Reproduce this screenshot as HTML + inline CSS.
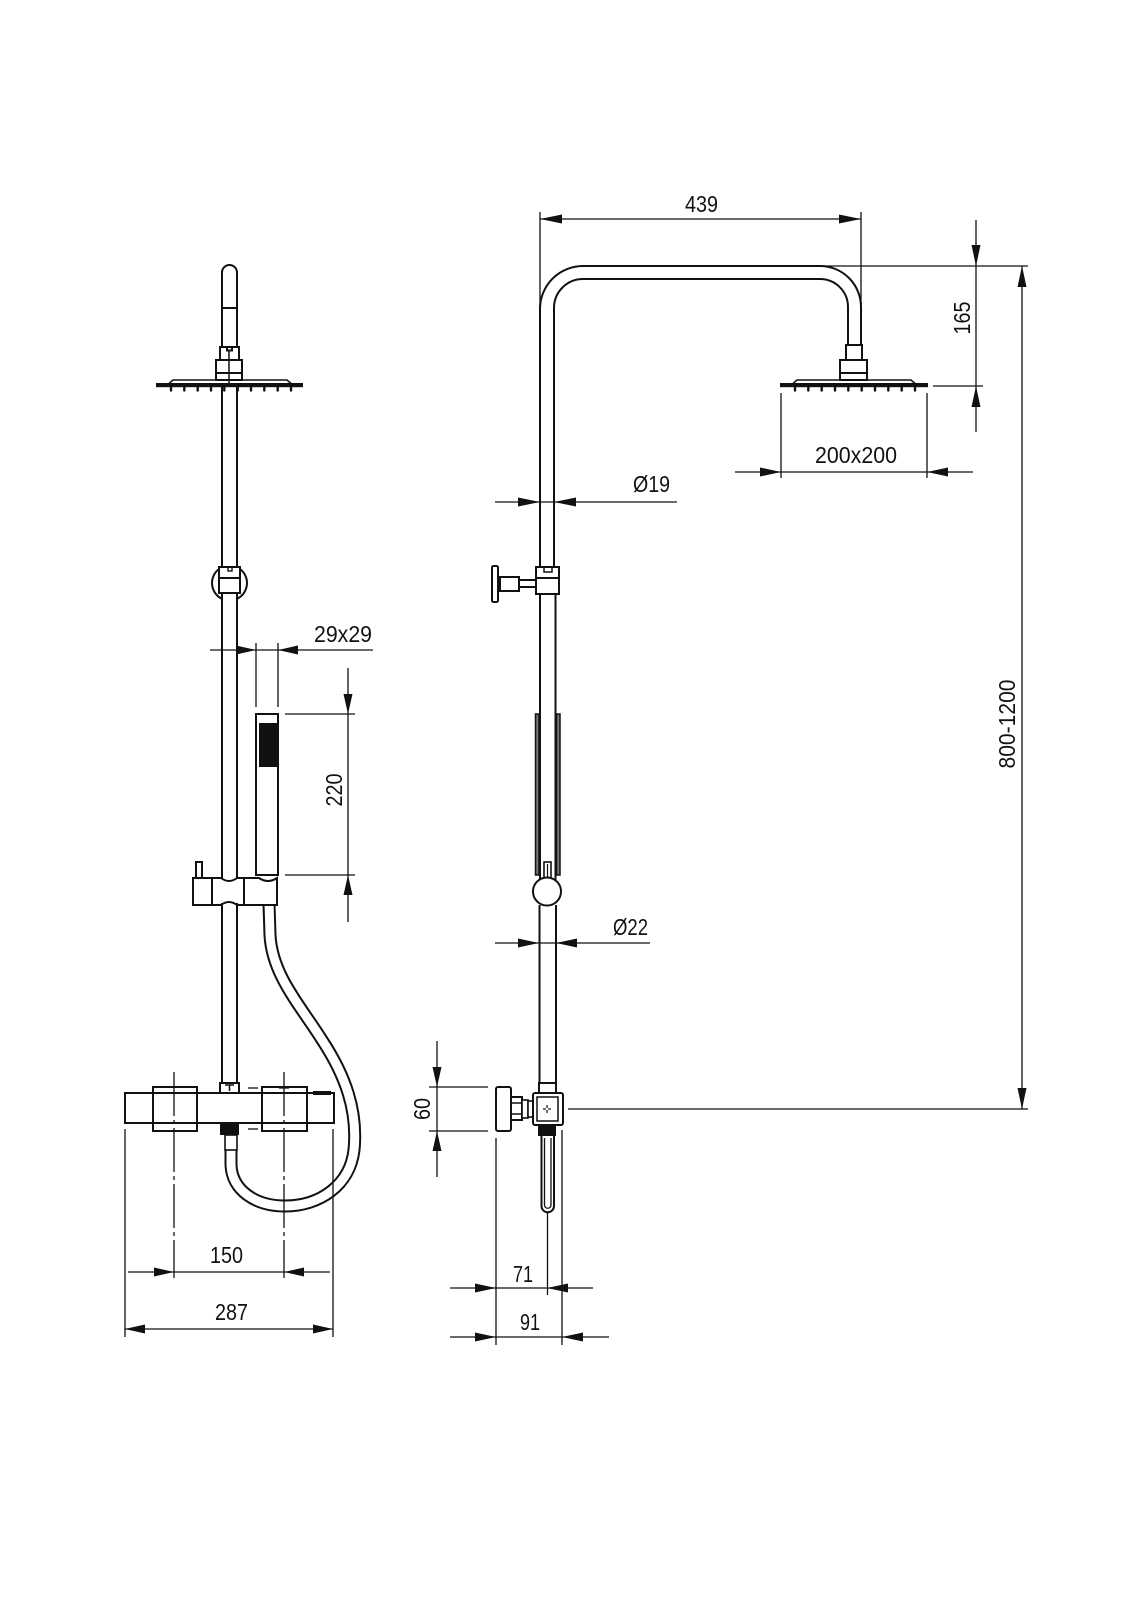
<!DOCTYPE html>
<html>
<head>
<meta charset="utf-8">
<style>
html,body{margin:0;padding:0;background:#fff;}
svg{display:block;}
text{font-family:"Liberation Sans Narrow","Liberation Sans",sans-serif;font-size:23px;fill:#111;}
</style>
</head>
<body>
<svg width="1131" height="1600" viewBox="0 0 1131 1600" xmlns="http://www.w3.org/2000/svg">
<rect width="1131" height="1600" fill="#fff"/>

<!-- ================= LEFT VIEW ================= -->
<!-- hose (drawn first) -->
<path d="M269 905 L270 935 C272 975 300 1005 322 1040 C345 1075 358 1110 354 1150 C350 1185 320 1206 285 1206 C255 1206 232 1190 231 1165 L231 1150" fill="none" stroke="#111" stroke-width="13"/>
<path d="M269 903 L270 935 C272 975 300 1005 322 1040 C345 1075 358 1110 354 1150 C350 1185 320 1206 285 1206 C255 1206 232 1190 231 1165 L231 1148" fill="none" stroke="#fff" stroke-width="9"/>

<g fill="none" stroke="#111" stroke-width="2">
  <!-- top arm pipe -->
  <path d="M222 347 V272.5 A7.5 7.5 0 0 1 237 272.5 V347"/>
  <line x1="222" y1="308" x2="237" y2="308"/>
  <rect x="220" y="347" width="19" height="13"/>
  <path d="M227 347 V350.5 H232 V347"/>
  <rect x="216" y="360" width="26" height="20" fill="#fff"/>
  <line x1="216" y1="373" x2="242" y2="373"/>
  <line x1="229" y1="350" x2="229" y2="383" stroke-width="1.5"/>
  <!-- plate -->
  <path d="M169 383.5 L173 380 H287 L291 383.5" stroke-width="1.6"/>
</g>
<rect x="156" y="383" width="147" height="4.2" fill="#111"/>
<g stroke="#111" stroke-width="2.4" stroke-linecap="round">
  <line x1="171" y1="387" x2="171" y2="390.5"/><line x1="184.3" y1="387" x2="184.3" y2="390.5"/>
  <line x1="197.7" y1="387" x2="197.7" y2="390.5"/><line x1="211" y1="387" x2="211" y2="390.5"/>
  <line x1="224.3" y1="387" x2="224.3" y2="390.5"/><line x1="237.7" y1="387" x2="237.7" y2="390.5"/>
  <line x1="251" y1="387" x2="251" y2="390.5"/><line x1="264.3" y1="387" x2="264.3" y2="390.5"/>
  <line x1="277.7" y1="387" x2="277.7" y2="390.5"/><line x1="291" y1="387" x2="291" y2="390.5"/>
</g>

<g fill="none" stroke="#111" stroke-width="2">
  <!-- riser pipe -->
  <line x1="222" y1="387" x2="222" y2="567"/><line x1="237" y1="387" x2="237" y2="567"/>
  <!-- holder -->
  <path d="M219 569 A17.5 17.5 0 0 0 222 598.8"/>
  <path d="M240 569 A17.5 17.5 0 0 1 237 598.8"/>
  <rect x="219" y="567" width="21" height="26" fill="#fff"/>
  <line x1="219" y1="578" x2="240" y2="578"/>
  <rect x="228" y="567" width="4" height="4" stroke-width="1.4"/>
  <line x1="222" y1="593" x2="222" y2="880"/><line x1="237" y1="593" x2="237" y2="880"/>
  <!-- hand shower -->
  <rect x="256" y="714" width="22" height="161"/>
  <!-- slider -->
  <rect x="196" y="862" width="6" height="16" fill="#fff"/>
  <path d="M193 878 H221 Q229 884 237 878 H259 Q268 884 277 878 V905 H237 Q229 899 221 905 H193 Z" fill="#fff"/>
  <line x1="212" y1="878" x2="212" y2="905"/>
  <line x1="244" y1="878" x2="244" y2="905"/>
  <line x1="222" y1="903" x2="222" y2="1083"/><line x1="237" y1="903" x2="237" y2="1083"/>
  <!-- thermostat -->
  <rect x="153" y="1087" width="44" height="44"/>
  <rect x="262" y="1087" width="45" height="44"/>
  <rect x="125" y="1093" width="209" height="30"/>
  <rect x="220" y="1083" width="19" height="10" fill="#fff"/>
  <path d="M225 1085 H234 M229.5 1085 V1091" stroke-width="1.5"/>
  <rect x="225" y="1135" width="12" height="15" fill="#fff" stroke-width="1.6"/>
</g>
<rect x="256" y="723" width="19.5" height="44" fill="#111" transform="translate(3 0) scale(1 1)"/>
<rect x="220" y="1123" width="19" height="12" fill="#111"/>
<rect x="313" y="1091" width="18" height="4" fill="#111"/>

<!-- centre / extension lines left -->
<g stroke="#111" stroke-width="1.3" fill="none">
  <line x1="174" y1="1072" x2="174" y2="1278" stroke-dasharray="44 4 4 4"/>
  <line x1="284" y1="1072" x2="284" y2="1278" stroke-dasharray="44 4 4 4"/>
  <line x1="248" y1="1088" x2="258" y2="1088"/>
  <line x1="248" y1="1129" x2="258" y2="1129"/>
  <line x1="279" y1="1088" x2="289" y2="1088"/>
  <line x1="125" y1="1129" x2="125" y2="1337"/>
  <line x1="333" y1="1129" x2="333" y2="1337"/>
  <!-- 29x29 -->
  <line x1="210" y1="650" x2="373" y2="650"/>
  <line x1="256" y1="643" x2="256" y2="707"/>
  <line x1="278" y1="643" x2="278" y2="707"/>
  <!-- 220 -->
  <line x1="348" y1="668" x2="348" y2="922"/>
  <line x1="285" y1="714" x2="355" y2="714"/>
  <line x1="285" y1="875" x2="355" y2="875"/>
  <!-- 150 -->
  <line x1="128" y1="1272" x2="330" y2="1272"/>
  <!-- 287 -->
  <line x1="125" y1="1329" x2="333" y2="1329"/>
</g>
<g fill="#111">
  <polygon points="256,650 236,645.5 236,654.5"/>
  <polygon points="278,650 298,645.5 298,654.5"/>
  <polygon points="348,714 343.5,694 352.5,694"/>
  <polygon points="348,875 343.5,895 352.5,895"/>
  <polygon points="174,1272 154,1267.5 154,1276.5"/>
  <polygon points="284,1272 304,1267.5 304,1276.5"/>
  <polygon points="125,1329 145,1324.5 145,1333.5"/>
  <polygon points="333,1329 313,1324.5 313,1333.5"/>
</g>
<text x="314" y="642" textLength="58" lengthAdjust="spacingAndGlyphs">29x29</text>
<text transform="translate(342 790) rotate(-90)" x="-16.5" y="0" textLength="33" lengthAdjust="spacingAndGlyphs">220</text>
<text x="210" y="1263" textLength="33" lengthAdjust="spacingAndGlyphs">150</text>
<text x="215" y="1320" textLength="33" lengthAdjust="spacingAndGlyphs">287</text>

<!-- ================= RIGHT VIEW ================= -->
<g fill="none" stroke="#111" stroke-width="2">
  <!-- arm -->
  <path d="M540 567 V309 A43 43 0 0 1 583 266 H820 A41 41 0 0 1 861 307 V345"/>
  <path d="M554 567 V308 A29 29 0 0 1 583 279 H820 A28 28 0 0 1 848 307 V345"/>
  <rect x="846" y="345" width="16" height="15"/>
  <rect x="840" y="360" width="27" height="20" fill="#fff"/>
  <line x1="840" y1="373" x2="867" y2="373"/>
  <path d="M793 383.5 L797 380 H911 L915 383.5" stroke-width="1.6"/>
</g>
<rect x="780" y="383" width="148" height="4.2" fill="#111"/>
<g stroke="#111" stroke-width="2.4" stroke-linecap="round">
  <line x1="795" y1="387" x2="795" y2="390.5"/><line x1="808.3" y1="387" x2="808.3" y2="390.5"/>
  <line x1="821.7" y1="387" x2="821.7" y2="390.5"/><line x1="835" y1="387" x2="835" y2="390.5"/>
  <line x1="848.3" y1="387" x2="848.3" y2="390.5"/><line x1="861.7" y1="387" x2="861.7" y2="390.5"/>
  <line x1="875" y1="387" x2="875" y2="390.5"/><line x1="888.3" y1="387" x2="888.3" y2="390.5"/>
  <line x1="901.7" y1="387" x2="901.7" y2="390.5"/><line x1="915" y1="387" x2="915" y2="390.5"/>
</g>

<g fill="none" stroke="#111" stroke-width="2">
  <!-- holder + knob -->
  <rect x="519" y="580" width="17" height="7" fill="#fff"/>
  <rect x="500" y="577" width="19" height="14" fill="#fff"/>
  <rect x="492" y="566" width="6" height="36" rx="1.5" fill="#fff"/>
  <rect x="536" y="567" width="23" height="27" fill="#fff"/>
  <line x1="536" y1="578" x2="559" y2="578"/>
  <rect x="544" y="567" width="8" height="5" stroke-width="1.5"/>
  <!-- pipe lower -->
  <line x1="540" y1="594" x2="540" y2="880"/>
  <line x1="555.5" y1="594" x2="555.5" y2="880"/>
  <!-- rail strips -->
  <rect x="535.5" y="714" width="3.5" height="161" fill="#777" stroke-width="1.5"/>
  <rect x="556.5" y="714" width="3.5" height="161" fill="#777" stroke-width="1.5"/>
  <!-- pin & ball -->
  <rect x="544" y="862" width="7" height="16" fill="#fff" stroke-width="1.6"/>
  <line x1="547.5" y1="864" x2="547.5" y2="878" stroke-width="1.2"/>
  <circle cx="547" cy="891.5" r="14" fill="#fff"/>
  <line x1="539.5" y1="905" x2="539.5" y2="1083"/>
  <line x1="556" y1="905" x2="556" y2="1083"/>
  <!-- mixer side -->
  <rect x="539" y="1083" width="17" height="10"/>
  <rect x="496" y="1087" width="15" height="44" rx="2" fill="#fff"/>
  <rect x="511" y="1097" width="11" height="23" fill="#fff"/>
  <line x1="511" y1="1103" x2="522" y2="1103" stroke-width="1.5"/>
  <line x1="511" y1="1114" x2="522" y2="1114" stroke-width="1.5"/>
  <rect x="522" y="1100" width="6" height="18" fill="#fff" stroke-width="1.6"/>
  <rect x="528" y="1101" width="5" height="16" fill="#fff" stroke-width="1.6"/>
  <rect x="533" y="1093" width="30" height="32" rx="2" fill="#fff"/>
  <rect x="537" y="1097" width="21" height="24" stroke-width="1.5"/>
  <!-- spout -->
  <path d="M541.5 1136 V1206 A6.25 6.25 0 0 0 554 1206 V1136"/>
  <path d="M544.5 1138 V1205 A3.25 3.25 0 0 0 551 1205 V1138" stroke-width="1.3"/>
</g>
<rect x="538" y="1125" width="18" height="11" fill="#111"/>
<g stroke="#111" stroke-width="1.2">
  <line x1="543" y1="1109" x2="546" y2="1109"/><line x1="548" y1="1109" x2="551" y2="1109"/>
  <line x1="547" y1="1105" x2="547" y2="1108"/><line x1="547" y1="1110" x2="547" y2="1113"/>
</g>

<!-- dims right -->
<g stroke="#111" stroke-width="1.3" fill="none">
  <!-- 439 -->
  <line x1="540" y1="219" x2="861" y2="219"/>
  <line x1="540" y1="212" x2="540" y2="310"/>
  <line x1="861" y1="212" x2="861" y2="308"/>
  <!-- top ext -->
  <line x1="820" y1="266" x2="1028" y2="266"/>
  <!-- 165 -->
  <line x1="976" y1="220" x2="976" y2="432"/>
  <line x1="933" y1="386" x2="983" y2="386"/>
  <!-- 800-1200 -->
  <line x1="1022" y1="266" x2="1022" y2="1109"/>
  <line x1="568" y1="1109" x2="1028" y2="1109"/>
  <!-- 200x200 -->
  <line x1="735" y1="472" x2="973" y2="472"/>
  <line x1="781" y1="393" x2="781" y2="478"/>
  <line x1="927" y1="393" x2="927" y2="478"/>
  <!-- Ø19 -->
  <line x1="495" y1="502" x2="677" y2="502"/>
  <!-- Ø22 -->
  <line x1="495" y1="943" x2="650" y2="943"/>
  <!-- 60 -->
  <line x1="437" y1="1041" x2="437" y2="1177"/>
  <line x1="429" y1="1087" x2="488" y2="1087"/>
  <line x1="429" y1="1131" x2="488" y2="1131"/>
  <!-- ext bottom -->
  <line x1="496" y1="1138" x2="496" y2="1345"/>
  <line x1="562" y1="1130" x2="562" y2="1345"/>
  <line x1="547.5" y1="1212" x2="547.5" y2="1295"/>
  <!-- 71 / 91 -->
  <line x1="450" y1="1288" x2="593" y2="1288"/>
  <line x1="450" y1="1337" x2="609" y2="1337"/>
</g>
<g fill="#111">
  <polygon points="540,219 562,214.5 562,223.5"/>
  <polygon points="861,219 839,214.5 839,223.5"/>
  <polygon points="976,266 971.5,245 980.5,245"/>
  <polygon points="976,386 971.5,407 980.5,407"/>
  <polygon points="1022,266 1017.5,287 1026.5,287"/>
  <polygon points="1022,1109 1017.5,1088 1026.5,1088"/>
  <polygon points="781,472 760,467.5 760,476.5"/>
  <polygon points="927,472 948,467.5 948,476.5"/>
  <polygon points="540,502 518,497.5 518,506.5"/>
  <polygon points="554,502 576,497.5 576,506.5"/>
  <polygon points="539,943 518,938.5 518,947.5"/>
  <polygon points="556,943 577,938.5 577,947.5"/>
  <polygon points="437,1087 432.5,1067 441.5,1067"/>
  <polygon points="437,1131 432.5,1151 441.5,1151"/>
  <polygon points="496,1288 475,1283.5 475,1292.5"/>
  <polygon points="547,1288 568,1283.5 568,1292.5"/>
  <polygon points="496,1337 475,1332.5 475,1341.5"/>
  <polygon points="562,1337 583,1332.5 583,1341.5"/>
</g>
<text x="685" y="212" textLength="33" lengthAdjust="spacingAndGlyphs">439</text>
<text x="815" y="463" textLength="82" lengthAdjust="spacingAndGlyphs">200x200</text>
<text x="633" y="492" textLength="37" lengthAdjust="spacingAndGlyphs">Ø19</text>
<text x="613" y="935" textLength="35" lengthAdjust="spacingAndGlyphs">Ø22</text>
<text x="513" y="1282" textLength="20" lengthAdjust="spacingAndGlyphs">71</text>
<text x="520" y="1330" textLength="20" lengthAdjust="spacingAndGlyphs">91</text>
<text transform="translate(970 318) rotate(-90)" x="-16.5" y="0" textLength="33" lengthAdjust="spacingAndGlyphs">165</text>
<text transform="translate(1015 724) rotate(-90)" x="-44.5" y="0" textLength="89" lengthAdjust="spacingAndGlyphs">800-1200</text>
<text transform="translate(430 1109) rotate(-90)" x="-11" y="0" textLength="22" lengthAdjust="spacingAndGlyphs">60</text>
</svg>
</body>
</html>
